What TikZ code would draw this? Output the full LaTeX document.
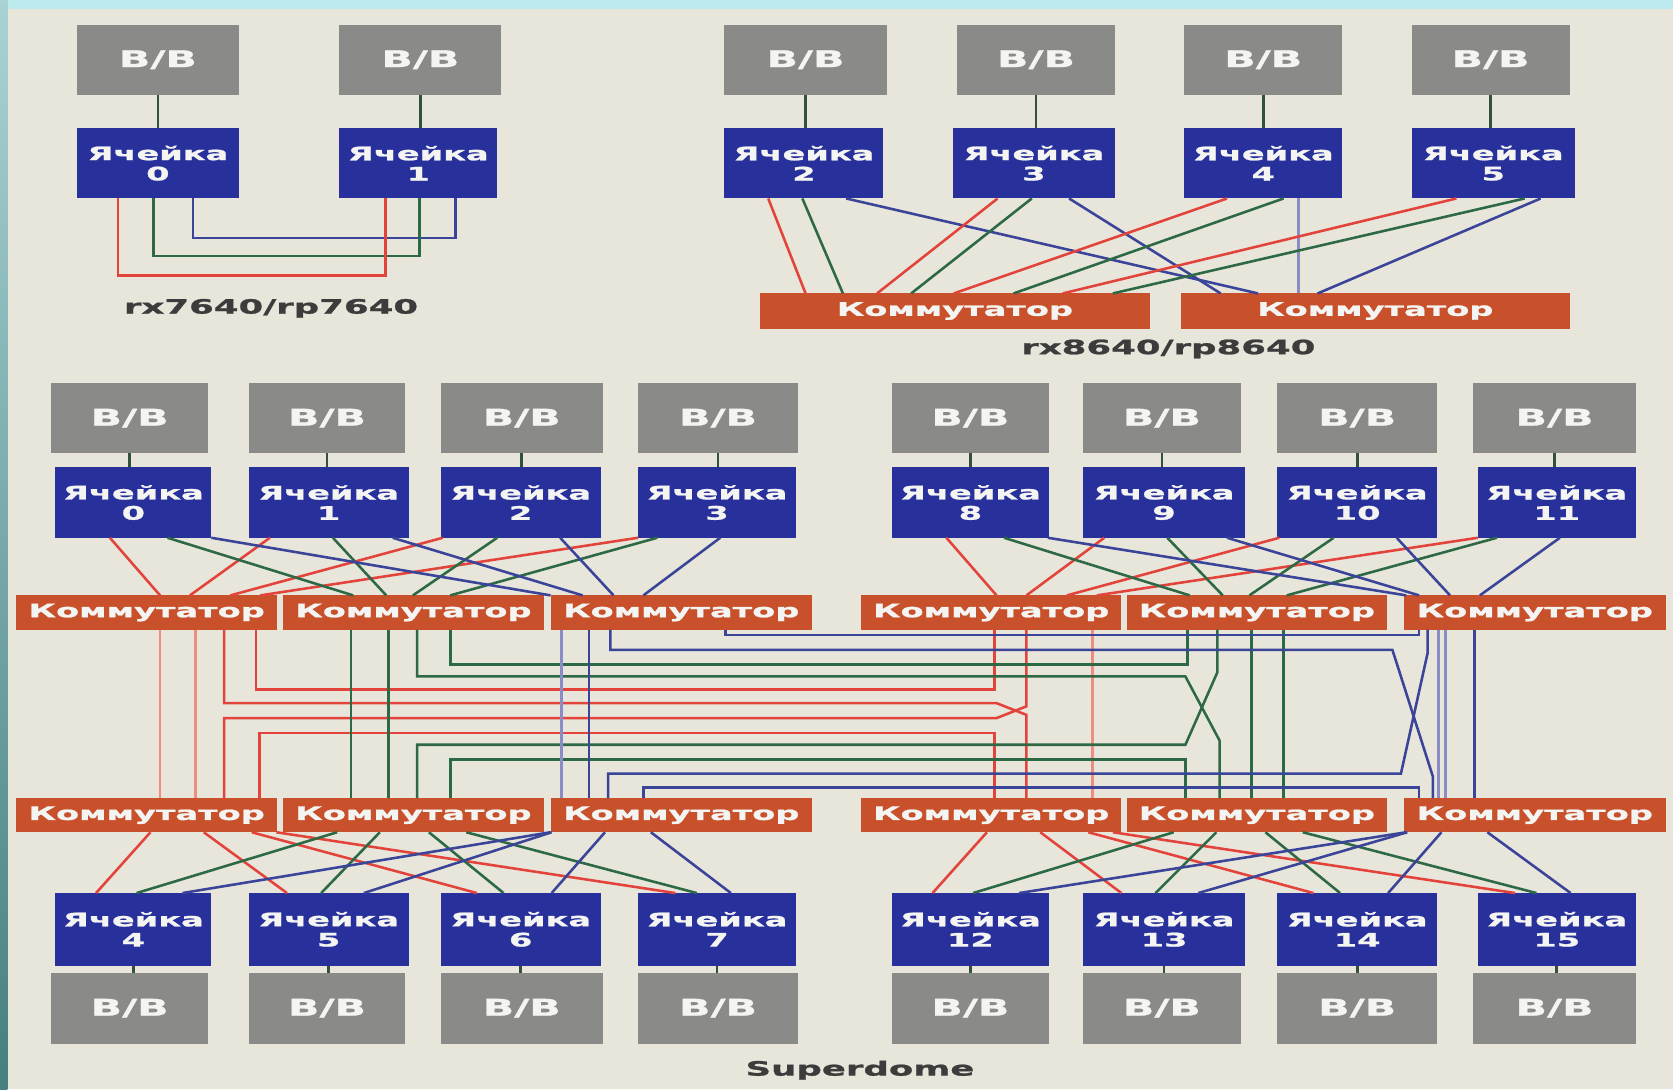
\documentclass[tikz,border=0pt]{standalone}
\usepackage{fontspec}
\newfontfamily\lab[FakeStretch=1.8,BoldFeatures={FakeBold=1.2}]{DejaVu Sans}
\usetikzlibrary{calc}
\definecolor{bg}{HTML}{E8E5DA}
\definecolor{topcyan}{HTML}{BCE9EC}
\definecolor{iogray}{HTML}{8A8A88}
\definecolor{cellblue}{HTML}{28319B}
\definecolor{swor}{HTML}{C8512C}
\definecolor{wred}{HTML}{E2443C}
\definecolor{wpink}{HTML}{EE8E82}
\definecolor{wgreen}{HTML}{2D6944}
\definecolor{wblue}{HTML}{3A4499}
\definecolor{wlav}{HTML}{8A8CC6}
\definecolor{txt}{HTML}{3C3C3C}
\definecolor{boxtxt}{HTML}{F4F4F2}
\definecolor{conncol}{HTML}{33513E}
\begin{document}
\begin{tikzpicture}[x=1pt,y=-1pt,
 every node/.style={inner sep=0pt,outer sep=0pt},
 iobox/.style={fill=iogray,text=boxtxt,anchor=north west,minimum height=66pt,font=\lab\bfseries\fontsize{21.5}{24}\selectfont},
 cellbox/.style={fill=cellblue,text=boxtxt,anchor=north west,minimum height=66pt,align=center,font=\lab\bfseries\fontsize{17.5}{19}\selectfont},
 swbox/.style={fill=swor,text=boxtxt,anchor=north west,minimum height=32pt,font=\lab\bfseries\fontsize{17.5}{20}\selectfont},
 lbl/.style={text=txt,font=\lab\bfseries\fontsize{18.5}{20}\selectfont},
 wire/.style={line width=2.4pt},
 rw/.style={wire,draw=wred},
 pw/.style={wire,draw=wpink},
 gw/.style={wire,draw=wgreen},
 bw/.style={wire,draw=wblue},
 lw/.style={wire,draw=wlav},
 conn/.style={line width=2.6pt,draw=conncol}]
\useasboundingbox (0,0) rectangle (1568,1021);
% background
\fill[bg] (0,0) rectangle (1568,1021);
\fill[topcyan] (0,0) rectangle (1568,8);
\shade[top color=topcyan!90!black, bottom color=teal!45!gray] (0,0) rectangle (7,1021);

% ---------- rx7640 / rp7640 ----------
\node[iobox,minimum width=152pt] (tio0) at (72,23) {В/В};
\node[iobox,minimum width=152pt] (tio1) at (318,23) {В/В};
\node[cellbox,minimum width=152pt] (tc0) at (72,120) {Ячейка\\0};
\node[cellbox,minimum width=148pt] (tc1) at (318,120) {Ячейка\\1};
\draw[conn] (tio0.south) -- (tio0.south |- tc0.north);
\draw[conn] (tio1.south) -- (tio1.south |- tc1.north);
\draw[bw] ([xshift=109pt]tc0.south west) -- ++(0,37) -| ([xshift=109pt]tc1.south west);
\draw[gw] ([xshift=72pt]tc0.south west) -- ++(0,54) -| ([xshift=75pt]tc1.south west);
\draw[rw] ([xshift=38.5pt]tc0.south west) -- ++(0,72) -| ([xshift=43.5pt]tc1.south west);
\node[lbl] (lab1) at (254,289) {rx7640/rp7640};

% ---------- rx8640 / rp8640 ----------
\foreach \n/\x/\w in {2/679/152,3/897/148,4/1110/148,5/1323/148}
  \node[iobox,minimum width=\w pt] (rio\n) at (\x,23) {В/В};
\foreach \n/\x/\w in {2/679/149,3/893/152,4/1110/148,5/1323/153}
  \node[cellbox,minimum width=\w pt] (rc\n) at (\x,120) {Ячейка\\\n};
\foreach \n in {2,3,4,5}
  \draw[conn] (rio\n.south) -- (rio\n.south |- rc\n.north);
\node[swbox,minimum width=366pt,minimum height=33pt] (rs1) at (712,275) {Коммутатор};
\node[swbox,minimum width=364pt,minimum height=33pt] (rs2) at (1107,275) {Коммутатор};
\foreach \c/\co/\s/\so/\st in {
  2/41/1/43/rw, 2/73/1/78/gw, 2/114/2/72/bw,
  3/42/1/110/rw, 3/74/1/142/gw, 3/109/2/37/bw,
  4/40/1/182/rw, 4/93/1/238/gw, 4/107/2/110/lw,
  5/42/1/284/rw, 5/106/1/331/gw, 5/121/2/128/bw}
  \draw[\st] ([xshift=\co pt]rc\c.south west) -- ([xshift=\so pt]rs\s.north west);
\node[lbl] (lab2) at (1095,327) {rx8640/rp8640};

% ---------- Superdome ----------
\foreach \n/\x/\w in {0/48/147,1/233/147,2/413/152,3/598/150,8/836/147,9/1015/148,10/1197/150,11/1381/152}
  \node[iobox,minimum width=\w pt] (sio\n) at (\x,359) {В/В};
\foreach \n/\x/\w in {0/52/146,1/233/150,2/413/150,3/598/148,8/836/147,9/1015/152,10/1197/150,11/1385/148}
  \node[cellbox,minimum width=\w pt] (c\n) at (\x,438) {Ячейка\\\n};
\foreach \n/\x/\w in {4/52/146,5/233/150,6/413/150,7/598/148,12/836/147,13/1015/152,14/1197/150,15/1385/148}
  \node[cellbox,minimum width=\w pt,minimum height=68pt] (c\n) at (\x,837) {Ячейка\\\n};
\foreach \n/\x/\w in {4/48/147,5/233/147,6/413/152,7/598/150,12/836/147,13/1015/148,14/1197/150,15/1381/152}
  \node[iobox,minimum width=\w pt] (bio\n) at (\x,912) {В/В};
\foreach \n/\x/\w in {A/15/245,B/265/245,C/516/245,D/807/244,E/1056/244,F/1316/245}{
  \node[swbox,minimum width=\w pt] (s\n) at (\x,558) {Коммутатор};
  \node[swbox,minimum width=\w pt] (b\n) at (\x,748) {Коммутатор};
}
\foreach \n in {0,1,2,3,8,9,10,11}
  \draw[conn] (sio\n.south) -- (sio\n.south |- c\n.north);
\foreach \n in {4,5,6,7,12,13,14,15}
  \draw[conn] (c\n.south) -- (c\n.south |- bio\n.north);

% cells -> upper switches
\foreach \c/\co/\s/\so/\st in {
  0/51/A/135/rw, 1/20/A/163/rw, 2/2/A/201/rw, 3/0/A/229/rw,
  0/105/B/66/gw, 1/79/B/97/gw, 2/53/B/122/gw, 3/18/B/157/gw,
  0/146/C/0/bw, 1/135/C/30/bw, 2/112/C/59/bw, 3/77/C/87/bw,
  8/51/D/127/rw, 9/20/D/155/rw, 10/2/D/193/rw, 11/0/D/221/rw,
  8/105/E/59/gw, 9/79/E/90/gw, 10/53/E/115/gw, 11/18/E/150/gw,
  8/146/F/2/bw, 9/135/F/14/bw, 10/112/F/43/bw, 11/77/F/71/bw}
  \draw[\st] ([xshift=\co pt]c\c.south west) -- ([xshift=\so pt]s\s.north west);

% lower switches -> cells
\foreach \c/\co/\s/\so/\st in {
  4/38/A/126/rw, 5/36/A/176/rw, 6/34/A/221/rw, 7/35/A/244/rw,
  4/76/B/51/gw, 5/68/B/91/gw, 6/59/B/137/gw, 7/55/B/172/gw,
  4/119/C/0/bw, 5/108/C/1/bw, 6/104/C/51/bw, 7/87/C/94/bw,
  12/38/D/118/rw, 13/36/D/168/rw, 14/34/D/213/rw, 15/35/D/236/rw,
  12/76/E/44/gw, 13/68/E/84/gw, 14/59/E/130/gw, 15/55/E/165/gw,
  12/119/F/2/bw, 13/108/F/3/bw, 14/104/F/35/bw, 15/87/F/78/bw}
  \draw[\st] ([xshift=\so pt]b\s.south west) -- ([xshift=\co pt]c\c.north west);

% middle wiring: red (A <-> D)
\draw[pw] ([xshift=135pt]sA.south west) -- ([xshift=135pt]bA.north west);
\draw[pw] ([xshift=168pt]sA.south west) -- ([xshift=168pt]bA.north west);
\draw[rw] ([xshift=225pt]sA.south west) |- (932,646) -- ([xshift=125pt]sD.south west);
\draw[rw] ([xshift=195pt]sA.south west) |- (934,659) -- (962,670) -- ([xshift=155pt]bD.north west);
\draw[rw] ([xshift=195pt]bA.north west) |- (934,673) -- (962,662) -- ([xshift=155pt]sD.south west);
\draw[rw] ([xshift=228pt]bA.north west) |- (932,687) -- ([xshift=125pt]bD.north west);
\draw[pw] ([xshift=217pt]sD.south west) -- ([xshift=217pt]bD.north west);
% green (B <-> E)
\draw[gw] ([xshift=64pt]sB.south west) -- ([xshift=64pt]bB.north west);
\draw[gw] ([xshift=99pt]sB.south west) -- ([xshift=99pt]bB.north west);
\draw[gw] ([xshift=157pt]sB.south west) |- (1113,623) -- ([xshift=57pt]sE.south west);
\draw[gw] ([xshift=126pt]sB.south west) |- (1111,634) -- (1143,694) -- ([xshift=87pt]bE.north west);
\draw[gw] ([xshift=126pt]bB.north west) |- (1111,698) -- (1141,630) -- ([xshift=85pt]sE.south west);
\draw[gw] ([xshift=157pt]bB.north west) |- (1111,712) -- ([xshift=55pt]bE.north west);
\draw[gw] ([xshift=117pt]sE.south west) -- ([xshift=117pt]bE.north west);
\draw[gw] ([xshift=147pt]sE.south west) -- ([xshift=147pt]bE.north west);
% blue (C <-> F)
\draw[lw] ([xshift=10pt]sC.south west) -- ([xshift=10pt]bC.north west);
\draw[bw] ([xshift=36pt]sC.south west) -- ([xshift=36pt]bC.north west);
\draw[bw] ([xshift=164pt]sC.south west) |- (1330,595) -- ([xshift=14pt]sF.south west);
\draw[bw] ([xshift=56pt]sC.south west) |- (1305,609) -- (1343,728) -- ([xshift=27pt]bF.north west);
\draw[bw] ([xshift=54pt]bC.north west) |- (1313,725) -- (1338,612) -- ([xshift=22pt]sF.south west);
\draw[bw] ([xshift=87pt]bC.north west) |- (1330,738) -- ([xshift=14pt]bF.north west);
\draw[lw] ([xshift=32pt]sF.south west) -- ([xshift=32pt]bF.north west);
\draw[lw] ([xshift=39pt]sF.south west) -- ([xshift=39pt]bF.north west);
\draw[bw] ([xshift=66pt]sF.south west) -- ([xshift=66pt]bF.north west);

\node[lbl] (lab3) at (806,1003) {Superdome};
\end{tikzpicture}
\end{document}
